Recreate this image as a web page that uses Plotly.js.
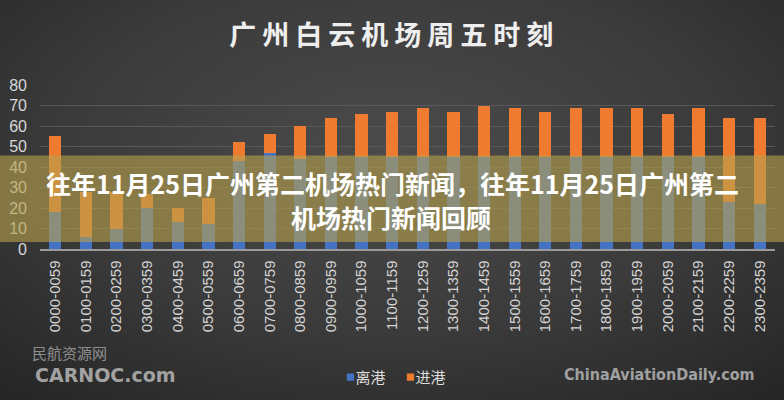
<!DOCTYPE html>
<html>
<head>
<meta charset="utf-8">
<script src="https://cdn.plot.ly/plotly-3.0.1.min.js"></script>
<style>
html,body{margin:0;padding:0;}
#chart{width:784px;height:400px;background:radial-gradient(ellipse 75% 80% at 50% 38%, #4b4b4b 0%, #3b3b3b 55%, #262626 100%);}
</style>
</head>
<body>
<div id="chart"></div>
<script>
const categories = ["0000-0059","0100-0159","0200-0259","0300-0359","0400-0459","0500-0559","0600-0659","0700-0759","0800-0859","0900-0959","1000-1059","1100-1159","1200-1259","1300-1359","1400-1459","1500-1559","1600-1659","1700-1759","1800-1859","1900-1959","2000-2059","2100-2159","2200-2259","2300-2359"];
const departures = [18, 6, 10, 20, 13, 12, 43, 47, 44, 45, 45, 45, 45, 45, 45, 45, 45, 45, 45, 45, 45, 45, 23, 22];
const arrivals   = [37, 22, 18, 7, 7, 13, 9, 9, 16, 19, 21, 22, 24, 22, 25, 24, 22, 24, 24, 24, 21, 24, 41, 42];
const seriesNames = ["离港", "进港"];
const chartTitle = "广州白云机场周五时刻";
const bannerLine1 = "往年11月25日广州第二机场热门新闻，往年11月25日广州第二";
const bannerLine2 = "机场热门新闻回顾";
const yTicks = [0, 10, 20, 30, 40, 50, 60, 70, 80];

const traces = [
  {type:'bar', name:seriesNames[0], x:categories, y:departures, marker:{color:'#4472c4'}},
  {type:'bar', name:seriesNames[1], x:categories, y:arrivals, marker:{color:'#ef7b30'}}
];

const layout = {
  width:784, height:400,
  paper_bgcolor:'rgba(0,0,0,0)', plot_bgcolor:'rgba(0,0,0,0)',
  margin:{l:40, r:9, t:85, b:150},
  barmode:'stack', bargap:0.6,
  title:{text:chartTitle, x:0.503, xanchor:'center', y:0.912, yanchor:'middle',
         font:{family:'"Noto Sans CJK SC", sans-serif', size:27, color:'#eeeeee', weight:'bold'}},
  xaxis:{type:'category', tickangle:-90, showgrid:false, zeroline:false,
         showline:true, linecolor:'#9a9a9a', linewidth:1.5,
         tickfont:{family:'"Liberation Sans", Arial, sans-serif', size:15, color:'#d4d4d4'}, ticklabelstandoff:4},
  yaxis:{range:[0,80], tickvals:yTicks, showgrid:true, gridcolor:'#585858', gridwidth:1,
         zeroline:false, showline:false, ticklabelstandoff:12,
         tickfont:{family:'"Liberation Sans", Arial, sans-serif', size:16, color:'#d8d8d8'}},
  showlegend:true,
  legend:{orientation:'h', traceorder:'normal', x:0.4775, xanchor:'center', y:-0.77, yanchor:'middle',
          font:{family:'"Noto Sans CJK SC", sans-serif', size:15, color:'#dddddd'},
          itemwidth:30, bgcolor:'rgba(0,0,0,0)'},
  shapes:[
    {type:'rect', xref:'paper', yref:'paper', x0:-40/735, x1:1+9/735, y0:7/165, y1:94/165,
     fillcolor:'rgba(180,160,76,0.62)', line:{width:0}, layer:'above'}
  ],
  annotations:[
    {text:bannerLine1, xref:'paper', yref:'paper', x:(392-40)/735, y:(250-184)/165, xanchor:'center', yanchor:'middle', showarrow:false,
     font:{family:'"Noto Sans CJK SC", sans-serif', size:25, color:'#ffffff', weight:'bold'}},
    {text:bannerLine2, xref:'paper', yref:'paper', x:(391-40)/735, y:(250-218)/165, xanchor:'center', yanchor:'middle', showarrow:false,
     font:{family:'"Noto Sans CJK SC", sans-serif', size:25, color:'#ffffff', weight:'bold'}},
    {text:'民航资源网', xref:'paper', yref:'paper', x:(30-40)/735, y:(250-354)/165, xanchor:'left', yanchor:'middle', showarrow:false,
     font:{family:'"Noto Sans CJK SC", serif', size:15, color:'#8e8e8e'}},
    {text:'CARNOC.com', xref:'paper', yref:'paper', x:(33-40)/735, y:(250-377)/165, xanchor:'left', yanchor:'middle', showarrow:false,
     font:{family:'"DejaVu Sans", sans-serif', size:19, color:'#a2a2a2', weight:'bold'}},
    {text:'ChinaAviationDaily.com', xref:'paper', yref:'paper', x:(757-40)/735, y:(250-376)/165, xanchor:'right', yanchor:'middle', showarrow:false,
     font:{family:'"DejaVu Sans Condensed", "DejaVu Sans", sans-serif', size:16, color:'#a0a0a0', weight:'bold'}}
  ]
};

Plotly.newPlot('chart', traces, layout, {displayModeBar:false, staticPlot:true}).then(function(){
  const t = document.querySelector('.gtitle');
  if (t) { t.style.letterSpacing = '6px'; }
  const items = document.querySelectorAll('.legend .traces');
  if (items.length > 1) {
    const g = items[1];
    const tr = g.getAttribute('transform') || '';
    g.setAttribute('transform', tr + ' translate(-15,0)');
  }
  items.forEach(function(g){
    const p = g.querySelector('.legendpoints path');
    const tx = g.querySelector('text.legendtext');
    if (!p || !tx) return;
    const orig = p.getAttribute('transform') || '';
    p.setAttribute('transform', orig + ' scale(0.6)');
    const pr = p.getBoundingClientRect();
    const trc = tx.getBoundingClientRect();
    const dx = (trc.left - 5) - (pr.left + pr.right) / 2;
    const dy = (trc.top + trc.bottom) / 2 + 1 - (pr.top + pr.bottom) / 2;
    p.setAttribute('transform', orig + ' translate(' + dx + ',' + dy + ') scale(0.6)');
  });
});
</script>
</body>
</html>
